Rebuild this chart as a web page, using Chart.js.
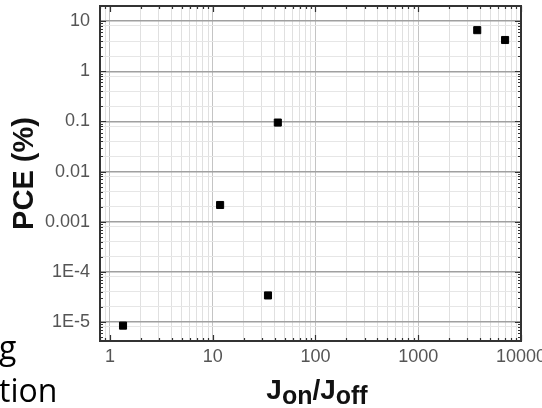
<!DOCTYPE html>
<html>
  <head>
    <title>PCE vs Jon/Joff</title>
    <script src="https://cdn.jsdelivr.net/npm/chart.js"></script>
    <style>
      html,
      body {
        margin: 0;
        padding: 0;
        background: #fff;
      }
      #wrap {
        width: 542px;
        height: 408px;
      }
    </style>
  </head>
  <body>
    <div id="wrap">
      <canvas id="pceChart" width="542" height="408"></canvas>
    </div>

    <script>
      // on/off current ratio and power conversion efficiency (%) per device
      const onOffRatio = [1.34, 11.8, 34.5, 43, 3750, 7000];
      const pceValues = [8.5e-6, 0.00216, 3.4e-5, 0.095, 6.6, 4.2];

      const xTickValues = [1, 10, 100, 1000, 10000];
      const xTickLabels = ["1", "10", "100", "1000", "10000"];
      const yTickValues = [10, 1, 0.1, 0.01, 0.001, 1e-4, 1e-5];
      const yTickLabels = ["10", "1", "0.1", "0.01", "0.001", "1E-4", "1E-5"];

      // horizontal minor grid lines are only drawn at these multiples
      const yMinorShown = [2, 4, 8];

      const FONT = "'Liberation Sans', Arial, sans-serif";

      // 1..9 x 10^n between min and max
      function logTicks(min, max) {
        const ticks = [];
        const e0 = Math.floor(Math.log10(min));
        const e1 = Math.ceil(Math.log10(max));
        for (let e = e0; e <= e1; e++) {
          for (let m = 1; m <= 9; m++) {
            const v = parseFloat((m * Math.pow(10, e)).toPrecision(6));
            if (v >= min && v <= max) ticks.push({ value: v, major: m === 1 });
          }
        }
        return ticks;
      }

      function mantissa(v) {
        return Math.round(v / Math.pow(10, Math.floor(Math.log10(v) + 1e-9)));
      }

      function labelFor(values, labels, v) {
        const i = values.findIndex(
          (t) => Math.abs(Math.log10(t) - Math.log10(v)) < 1e-6
        );
        return i >= 0 ? labels[i] : "";
      }

      // inward tick marks on all four sides, the frame, the x title and the slide text
      const frameTicks = {
        id: "frameTicks",
        afterDraw(chart) {
          const { ctx, chartArea: a, scales } = chart;
          ctx.save();
          ctx.strokeStyle = "#333";
          ctx.lineWidth = 1.2;
          ctx.beginPath();
          scales.x.ticks.forEach((t) => {
            const px = Math.round(scales.x.getPixelForValue(t.value)) + 0.5;
            const len = t.major ? 6 : 3;
            ctx.moveTo(px, a.bottom);
            ctx.lineTo(px, a.bottom - len);
            ctx.moveTo(px, a.top);
            ctx.lineTo(px, a.top + len);
          });
          scales.y.ticks.forEach((t) => {
            const py = Math.round(scales.y.getPixelForValue(t.value)) + 0.5;
            const len = t.major ? 6 : 3;
            ctx.moveTo(a.left, py);
            ctx.lineTo(a.left + len, py);
            ctx.moveTo(a.right, py);
            ctx.lineTo(a.right - len, py);
          });
          ctx.stroke();

          ctx.lineWidth = 2;
          ctx.strokeRect(a.left, a.top, a.right - a.left, a.bottom - a.top);

          // J_on / J_off
          const parts = [
            { t: "J", sub: false },
            { t: "on", sub: true },
            { t: "/", sub: false },
            { t: "J", sub: false },
            { t: "off", sub: true },
          ];
          const mainFont = "bold 28px " + FONT;
          const subFont = "bold 25px " + FONT;
          let total = 0;
          parts.forEach((p) => {
            ctx.font = p.sub ? subFont : mainFont;
            p.w = ctx.measureText(p.t).width;
            total += p.w;
          });
          let x = 317 - total / 2;
          ctx.fillStyle = "#111";
          ctx.textAlign = "left";
          ctx.textBaseline = "alphabetic";
          parts.forEach((p) => {
            ctx.font = p.sub ? subFont : mainFont;
            ctx.fillText(p.t, x, p.sub ? 404 : 399);
            x += p.w;
          });

          // neighbouring slide text
          ctx.fillStyle = "#000";
          ctx.font = "32px 'Open Sans', sans-serif";
          ctx.fillText("g", -1, 359);
          ctx.fillText("tion", -1, 402);
          ctx.restore();
        },
      };

      new Chart(document.getElementById("pceChart"), {
        type: "scatter",
        data: {
          datasets: [
            {
              data: onOffRatio.map((x, i) => ({ x: x, y: pceValues[i] })),
              pointStyle: "rect",
              radius: 5,
              backgroundColor: "#000",
              borderColor: "#000",
              borderWidth: 1,
            },
          ],
        },
        options: {
          responsive: false,
          animation: false,
          layout: { padding: { left: 0, top: 5, right: 21, bottom: 0 } },
          plugins: {
            legend: { display: false },
            tooltip: { enabled: false },
          },
          scales: {
            x: {
              type: "logarithmic",
              min: 0.8,
              max: 10000,
              afterBuildTicks: (scale) => {
                scale.ticks = logTicks(scale.min, scale.max);
              },
              afterFit: (scale) => {
                scale.height = 67;
                // let the last label run past the plot edge
                scale.paddingLeft = 0;
                scale.paddingRight = 0;
              },
              border: { display: false },
              grid: {
                drawTicks: false,
                color: (c) => (c.tick && c.tick.major ? "#c4c4c4" : "#e0e0e0"),
                lineWidth: 1,
              },
              ticks: {
                autoSkip: false,
                maxRotation: 0,
                minRotation: 0,
                padding: 5,
                color: "#555",
                font: { family: FONT, size: 18 },
                callback: (v) => labelFor(xTickValues, xTickLabels, v),
              },
            },
            y: {
              type: "logarithmic",
              min: 4.2e-6,
              max: 20,
              afterBuildTicks: (scale) => {
                scale.ticks = logTicks(scale.min, scale.max);
              },
              afterFit: (scale) => {
                scale.width = 100;
                scale.paddingTop = 0;
                scale.paddingBottom = 0;
              },
              border: { display: false },
              grid: {
                drawTicks: false,
                color: (c) => {
                  const m = mantissa(c.tick.value);
                  if (m === 1) return "#a0a0a0";
                  return yMinorShown.includes(m) ? "#e6e6e6" : "rgba(0,0,0,0)";
                },
                lineWidth: (c) => (mantissa(c.tick.value) === 1 ? 1.5 : 1),
              },
              ticks: {
                autoSkip: false,
                padding: 10,
                color: "#555",
                font: { family: FONT, size: 18 },
                callback: (v) => labelFor(yTickValues, yTickLabels, v),
              },
              title: {
                display: true,
                text: "PCE (%)",
                color: "#111",
                font: { family: FONT, size: 29, weight: "bold" },
                padding: { top: 8, bottom: 0 },
              },
            },
          },
        },
        plugins: [frameTicks],
      });
    </script>
  </body>
</html>
